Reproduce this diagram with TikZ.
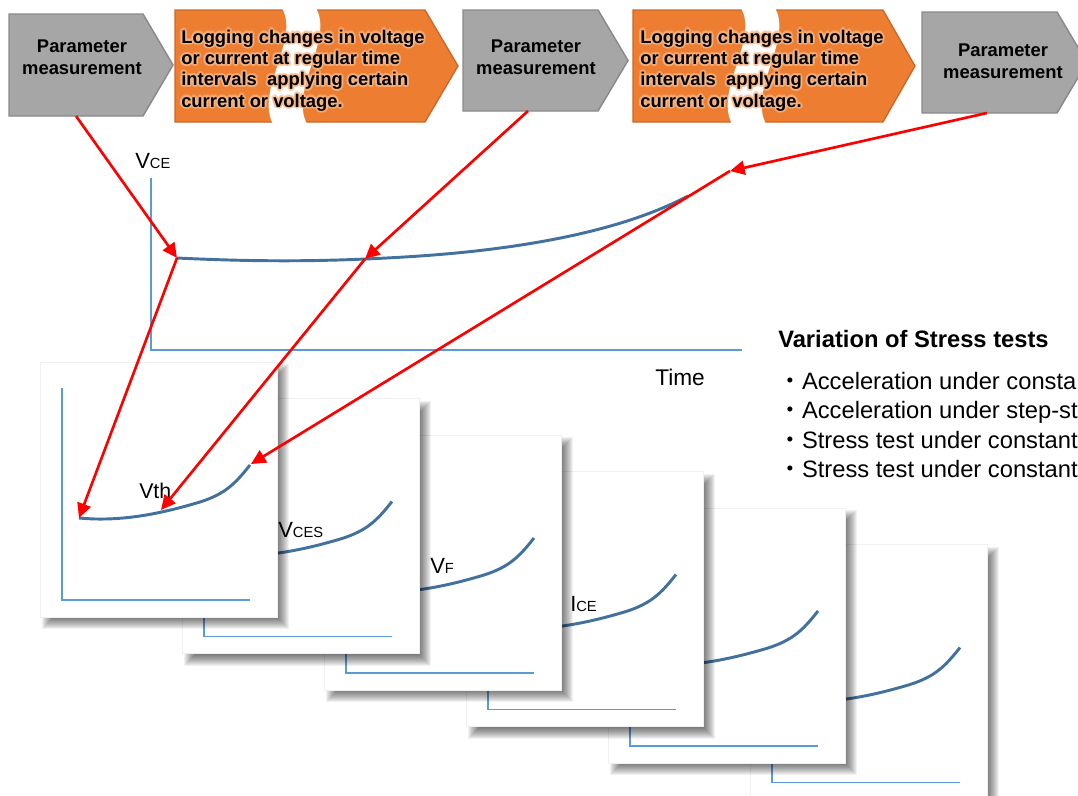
\documentclass[tikz,border=0pt]{standalone}
\usepackage{fontspec}
\setmainfont{Liberation Sans}
\newfontfamily\cjk{Noto Sans CJK JP}
\usetikzlibrary{arrows.meta}
\definecolor{grayfill}{HTML}{A6A6A6}
\definecolor{grayline}{HTML}{8A8A8A}
\definecolor{orfill}{HTML}{ED7D31}
\definecolor{orline}{HTML}{C9682A}
\definecolor{orglow}{HTML}{F7B887}
\definecolor{axisblue}{HTML}{5B9BD5}
\definecolor{curveblue}{HTML}{41719C}
\definecolor{arrowred}{HTML}{FF0000}
\newcommand\bigf{\fontsize{16.5}{18}\selectfont}
\newcommand\smallf{\fontsize{11}{12}\selectfont}
\newcommand\logtext{Logging changes in voltage\\or current at regular time\\intervals\ \ applying certain\\current or voltage.}
\newcommand\cardbox[1]{%
  \begin{scope}[shift={(142*#1,36.5*#1)}]
    \foreach \r in {-6,...,5}
      \fill[black,opacity=0.055] (47-\r,369-\r) rectangle (284+\r,624+\r);
    \fill[white,draw=black!6,line width=0.5pt] (40,362) rectangle (277,617);
    \draw[axisline] (62,388) -- (62,600) -- (250,600);
    \draw[curveline] (79,518) .. controls (120,522) and (160,514) .. (200,502)
      .. controls (225,494) and (235,484) .. (250,465);
  \end{scope}}
\begin{document}
\begin{tikzpicture}[x=0.75pt,y=-0.75pt,
  graybox/.style={fill=grayfill,draw=grayline,line width=1.1pt},
  orbox/.style={fill=orfill,draw=orline,line width=1pt},
  gaparea/.style={fill=white},
  boxtext/.style={font=\fontsize{13.8}{16}\selectfont\bfseries,align=left,inner sep=0pt,anchor=north west},
  glowtext/.style={boxtext,text=orglow,opacity=0.45},
  graytext/.style={font=\fontsize{13.8}{16.5}\selectfont\bfseries,align=center,inner sep=0pt},
  axisline/.style={draw=axisblue,line width=1pt},
  curveline/.style={draw=curveblue,line width=2.2pt},
  redarrow/.style={draw=arrowred,line width=2pt,-{Triangle[length=11pt,width=10.5pt]}},
  lab/.style={anchor=base west,inner sep=0pt},
  rtext/.style={anchor=base west,inner sep=0pt,font=\fontsize{17.8}{20}\selectfont},
]
\useasboundingbox (0,0) rectangle (1078,796);
\fill[white] (0,0) rectangle (1078,796);

% top process banner
\draw[graybox] (9,14) -- (143,14) -- (173,65) -- (143,116) -- (9,116) -- cycle;
\draw[orbox] (175,10) -- (425,10) -- (458,66) -- (425,122) -- (175,122) -- cycle;
\fill[gaparea] (282,8) .. controls (300,40) and (255,90) .. (273,124) -- (307,124)
  .. controls (289,90) and (334,40) .. (316,8) -- cycle;
\draw[graybox] (463,10) -- (598,10) -- (628,60.5) -- (598,111) -- (463,111) -- cycle;
\draw[orbox] (633,10) -- (883,10) -- (915,66) -- (883,122) -- (633,122) -- cycle;
\fill[gaparea] (741,8) .. controls (759,40) and (714,90) .. (732,124) -- (766,124)
  .. controls (748,90) and (793,40) .. (775,8) -- cycle;
\draw[graybox] (922,12) -- (1057,12) -- (1087,62.5) -- (1057,113) -- (922,113) -- cycle;

\node[graytext] (g1t) at (82,57) {Parameter\\measurement};
\node[graytext] (g2t) at (536,57) {Parameter\\measurement};
\node[graytext] (g3t) at (1003,61) {Parameter\\measurement};
\foreach \a in {0,30,...,330} {
  \node[glowtext,xshift={1.6pt*cos(\a)},yshift={1.6pt*sin(\a)}] (o1g\a) at (181,29.5) {\logtext};
  \node[glowtext,xshift={1.6pt*cos(\a)},yshift={1.6pt*sin(\a)}] (o2g\a) at (640,29.5) {\logtext};
}
\node[boxtext] (o1t) at (181,29.5) {\logtext};
\node[boxtext] (o2t) at (640,29.5) {\logtext};

% main V_CE graph
\draw[axisline] (151,178) -- (151,350) -- (742,350);
\draw[curveline] (177,258) .. controls (260,262) and (330,262) .. (420,256)
  .. controls (520,249) and (620,232) .. (688,196);
\node[lab] (lvce) at (135,168) {\bigf V\smallf CE};
\node[lab,font=\fontsize{17}{19}\selectfont] (ltime) at (655,385) {Time};

% stacked cards (card 1 on top)
\cardbox{5}
\cardbox{4}
\cardbox{3}
\node[lab] (lice) at (570,611) {\bigf I\smallf CE};
\cardbox{2}
\node[lab] (lvf) at (430,573) {\bigf V\smallf F};
\cardbox{1}
\node[lab] (lvces) at (278,537) {\bigf V\smallf CES};
\cardbox{0}
\node[lab,font=\fontsize{16}{18}\selectfont] (lvth) at (139,498) {Vth};

% right text
\node[rtext,font=\fontsize{17.8}{20}\selectfont\bfseries] (title) at (778,347) {Variation of Stress tests};
\node[rtext] (b1) at (778,389) {{\cjk ・}Acceleration under consta};
\node[rtext] (b2) at (778,418) {{\cjk ・}Acceleration under step-st};
\node[rtext] (b3) at (778,448) {{\cjk ・}Stress test under constant};
\node[rtext] (b4) at (778,477) {{\cjk ・}Stress test under constant};

% arrows
\coordinate (g1b) at (76,116);
\coordinate (g2b) at (528,111);
\coordinate (g3b) at (987,113);
\coordinate (va) at (177,258);
\coordinate (vb) at (365,259);
\coordinate (vc) at (730,171);
\coordinate (ca) at (79,518);
\coordinate (cb) at (161,510);
\coordinate (cc) at (251,464);
\draw[redarrow] (g1b) -- (va);
\draw[redarrow] (va) -- (ca);
\draw[redarrow] (g2b) -- (vb);
\draw[redarrow] (vb) -- (cb);
\draw[redarrow] (g3b) -- (vc);
\draw[redarrow] (vc) -- (cc);
\end{tikzpicture}
\end{document}
